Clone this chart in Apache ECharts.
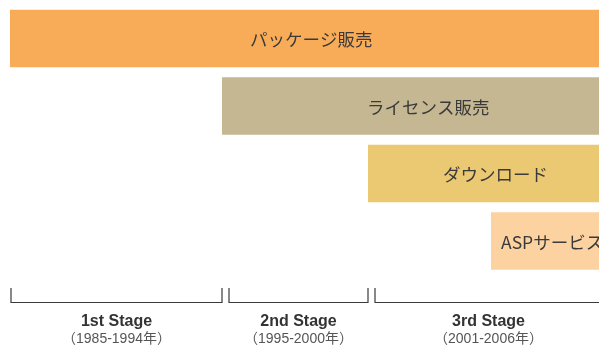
<!DOCTYPE html>
<html>
<head>
<meta charset="utf-8">
<script src="https://cdn.jsdelivr.net/npm/echarts@6/dist/echarts.min.js"></script>
<style>
  html, body { margin: 0; padding: 0; background: #fff; }
  #chart { width: 599px; height: 346px; }
</style>
</head>
<body>
<div id="chart"></div>
<script>
// Business channels along the timeline (horizontal units on a 0–589 scale)
const channels = ['パッケージ販売', 'ライセンス販売', 'ダウンロード', 'ASPサービス'];
const channelStart = [0, 212, 358, 481];
const channelEnd = [620, 620, 620, 620];
const channelColors = ['#F9AC58', '#C4B792', '#EBC872', '#FDD2A1'];
const labelOffset = [240, 145, 75, 10];

// Stages shown as brackets under the timeline
const stageNames = ['1st Stage', '2nd Stage', '3rd Stage'];
const stageYears = ['（1985-1994年）', '（1995-2000年）', '（2001-2006年）'];
const stageStart = [1, 219, 365];
const stageEnd = [212, 358, 592];

const chart = echarts.init(document.getElementById('chart'));

const barData = channels.map((c, i) => [i, channelStart[i], channelEnd[i], c]);
const stageData = stageNames.map((s, i) => [stageStart[i], stageEnd[i], s, stageYears[i]]);

const jpFont = '"Noto Sans CJK JP", "Noto Sans", sans-serif';

chart.setOption({
  animation: false,
  grid: [
    { left: 10, right: 0, top: 4.75, height: 270 },
    { left: 10, right: 0, top: 288, height: 58 }
  ],
  xAxis: [
    { type: 'value', gridIndex: 0, min: 0, max: 589, show: false },
    { type: 'value', gridIndex: 1, min: 0, max: 589, show: false }
  ],
  yAxis: [
    { type: 'category', gridIndex: 0, data: channels, inverse: true, show: false },
    { type: 'value', gridIndex: 1, min: 0, max: 1, show: false }
  ],
  series: [
    {
      type: 'custom',
      xAxisIndex: 0,
      yAxisIndex: 0,
      clip: true,
      encode: { x: [1, 2], y: 0 },
      data: barData,
      renderItem: function (params, api) {
        const i = api.value(0);
        const p0 = api.coord([api.value(1), i]);
        const p1 = api.coord([api.value(2), i]);
        const h = api.size([0, 1])[1] * 0.853;
        const cs = params.coordSys;
        const x0 = p0[0];
        const x1 = Math.min(p1[0], cs.x + cs.width);
        return {
          type: 'group',
          children: [
            {
              type: 'rect',
              shape: { x: x0, y: p0[1] - h / 2, width: x1 - x0, height: h },
              style: { fill: channelColors[i] }
            },
            {
              type: 'text',
              style: {
                x: x0 + labelOffset[i],
                y: p0[1] + 1,
                text: channels[i],
                fill: '#3a3a3a',
                font: '17.5px ' + jpFont,
                verticalAlign: 'middle',
                align: 'left'
              }
            }
          ]
        };
      }
    },
    {
      type: 'custom',
      xAxisIndex: 1,
      yAxisIndex: 1,
      encode: { x: [0, 1] },
      data: stageData,
      renderItem: function (params, api) {
        const cs = params.coordSys;
        const a = api.coord([api.value(0), 1])[0];
        const b = api.coord([api.value(1), 1])[0];
        const top = cs.y;
        const bottom = cs.y + 14.5;
        const mid = (a + b) / 2;
        const idx = params.dataIndex;
        return {
          type: 'group',
          children: [
            {
              type: 'polyline',
              shape: { points: [[a, top], [a, bottom], [b, bottom], [b, top]] },
              style: { stroke: '#3a3a3a', lineWidth: 1.2, fill: null }
            },
            {
              type: 'text',
              style: {
                x: mid,
                y: 322,
                text: stageNames[idx],
                fill: '#333',
                font: 'bold 16px "Liberation Sans", Arial, sans-serif',
                align: 'center',
                verticalAlign: 'middle'
              }
            },
            {
              type: 'text',
              style: {
                x: mid,
                y: 339,
                text: stageYears[idx],
                fill: '#555',
                font: '14px "Liberation Sans", "Noto Sans CJK JP", sans-serif',
                align: 'center',
                verticalAlign: 'middle'
              }
            }
          ]
        };
      }
    }
  ]
});
</script>
</body>
</html>
